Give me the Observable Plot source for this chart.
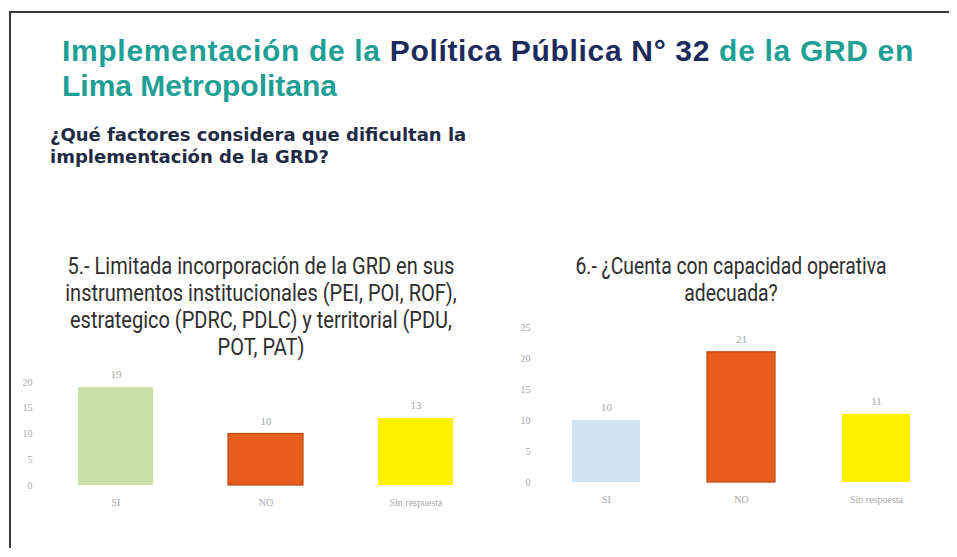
<!DOCTYPE html>
<html>
<head>
<meta charset="utf-8">
<script src="https://cdn.jsdelivr.net/npm/d3@7"></script>
<script src="https://cdn.jsdelivr.net/npm/@observablehq/plot@0.6"></script>
<style>
  html, body { margin: 0; padding: 0; background: #fff; }
  #page { position: relative; width: 957px; height: 557px; overflow: hidden; background: #fff; }
  .frame-top { position: absolute; left: 9px; top: 11px; width: 940px; height: 2px; background: #3a3a3a; }
  .frame-left { position: absolute; left: 9px; top: 11px; width: 2px; height: 537px; background: #3a3a3a; }
  .title { position: absolute; left: 62px; font-family: "Liberation Sans", Arial, sans-serif; font-weight: 700; font-size: 30px; line-height: 35px; height: 35px; color: #1f9f95; white-space: nowrap; }
  .title b { color: #1d2b5c; font-weight: 700; }
  .subtitle { position: absolute; left: 50px; top: 124px; font-family: "DejaVu Sans", sans-serif; font-weight: 700; font-size: 18px; line-height: 22px; color: #1f2a44; white-space: nowrap; }
  .ctitle { position: absolute; text-align: center; font-family: "Roboto", "Liberation Sans", sans-serif; font-size: 23px; line-height: 27px; color: #2e2e2e; white-space: nowrap; transform-origin: 50% 0; }
  .chart { position: absolute; }
</style>
</head>
<body>
<div id="page">
  <div class="frame-top"></div>
  <div class="frame-left"></div>
  <div class="title" id="tl1" style="top:33px;">Implementación de la <b>Política Pública N° 32</b> de la GRD en</div>
  <div class="title" style="top:68px;">Lima Metropolitana</div>
  <div class="subtitle">¿Qué factores considera que dificultan la<br>implementación de la GRD?</div>
  <div class="ctitle" id="t5" style="left:11px; width:500px; top:253px; transform: scaleX(0.87);"></div>
  <div class="ctitle" id="t6" style="left:481px; width:500px; top:253px; transform: scaleX(0.84);"></div>
  <div class="chart" id="c5" style="left:0px; top:360px;"></div>
  <div class="chart" id="c6" style="left:490px; top:300px;"></div>
</div>
<script>
// ---- data ----
const categories = ["SI", "NO", "Sin respuesta"];
const values5 = [19, 10, 13];
const values6 = [10, 21, 11];
const ticks5 = [0, 5, 10, 15, 20];
const ticks6 = [0, 5, 10, 15, 20, 25];
const title5 = ["5.- Limitada incorporación de la GRD en sus", "instrumentos institucionales (PEI, POI, ROF),", "estrategico (PDRC, PDLC) y territorial (PDU,", "POT, PAT)"];
const title6 = ["6.- ¿Cuenta con capacidad operativa", "adecuada?"];
const colors5 = ["#c8e0a6", "#e85d1c", "#fff200"];
const colors6 = ["#cfe5f5", "#e85d1c", "#fff200"];

document.getElementById("t5").innerHTML = title5.join("<br>");
document.getElementById("t6").innerHTML = title6.join("<br>");

function makeChart(values, colors, ticks, opts) {
  const data = categories.map((c, i) => ({cat: c, v: values[i]}));
  return Plot.plot({
    width: opts.width,
    height: opts.height,
    marginLeft: opts.ml,
    marginRight: opts.mr,
    marginTop: opts.mt,
    marginBottom: opts.mb,
    style: {fontFamily: "Liberation Serif, serif", fontSize: "10px", color: "#a8a8a8", background: "transparent"},
    x: {domain: categories, paddingInner: 0.5, paddingOuter: 0.25, label: null, tickSize: 0, tickPadding: 13},
    y: {domain: [0, ticks[ticks.length - 1]], ticks: ticks, label: null, tickSize: 0, tickPadding: 8},
    color: {domain: categories, range: colors},
    marks: [
      Plot.barY(data, {x: "cat", y: "v", fill: "cat", stroke: d => d.cat === "NO" ? "#b8460f" : "none", strokeWidth: 1.2}),
      Plot.text(data, {x: "cat", y: "v", text: d => String(d.v), dy: -13, fill: "#a8a8a8", fontSize: 11})
    ]
  });
}

document.getElementById("c5").append(makeChart(values5, colors5, ticks5, {width: 490, height: 160, ml: 40, mr: 0, mt: 22, mb: 35}));
document.getElementById("c6").append(makeChart(values6, colors6, ticks6, {width: 467, height: 215, ml: 48, mr: 14, mt: 27, mb: 33}));

// fit the first title line to the reference width
const tl1 = document.getElementById("tl1");
const w = tl1.getBoundingClientRect().width;
const chars = tl1.textContent.length;
tl1.style.letterSpacing = ((852 - w) / chars).toFixed(2) + "px";
</script>
</body>
</html>
